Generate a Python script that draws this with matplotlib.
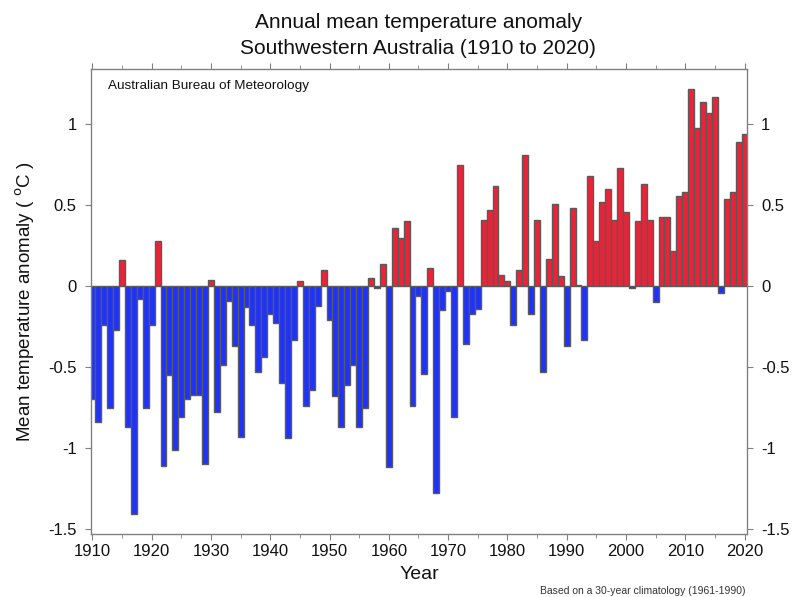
import matplotlib
matplotlib.use("Agg")
import matplotlib.pyplot as plt
import numpy as np
from matplotlib.ticker import MultipleLocator

plt.rcParams['font.family'] = ['Liberation Sans', 'DejaVu Sans']

years = list(range(1910, 2021))
anomaly = [
    -0.70, -0.84, -0.24, -0.75, -0.27, 0.16, -0.87, -1.41, -0.08, -0.75,   # 1910-1919
    -0.24, 0.28, -1.11, -0.55, -1.01, -0.81, -0.70, -0.67, -0.67, -1.10,   # 1920-1929
    0.04, -0.78, -0.49, -0.09, -0.37, -0.93, -0.13, -0.24, -0.53, -0.44,   # 1930-1939
    -0.17, -0.23, -0.60, -0.94, -0.33, 0.03, -0.74, -0.64, -0.12, 0.10,    # 1940-1949
    -0.21, -0.68, -0.87, -0.61, -0.49, -0.87, -0.75, 0.05, -0.01, 0.14,    # 1950-1959
    -1.12, 0.36, 0.30, 0.40, -0.74, -0.06, -0.54, 0.11, -1.28, -0.15,      # 1960-1969
    -0.03, -0.81, 0.75, -0.36, -0.17, -0.14, 0.41, 0.47, 0.62, 0.07,       # 1970-1979
    0.03, -0.24, 0.10, 0.81, -0.17, 0.41, -0.53, 0.17, 0.51, 0.06,         # 1980-1989
    -0.37, 0.48, 0.01, -0.33, 0.68, 0.28, 0.52, 0.60, 0.41, 0.73,          # 1990-1999
    0.46, -0.01, 0.40, 0.63, 0.41, -0.10, 0.43, 0.43, 0.22, 0.56,          # 2000-2009
    0.58, 1.22, 0.98, 1.14, 1.07, 1.17, -0.04, 0.54, 0.58, 0.89,           # 2010-2019
    0.94,                                                                  # 2020
]
x_ticks = list(range(1910, 2021, 10))
y_ticks = [-1.5, -1, -0.5, 0, 0.5, 1]
y_tick_labels = ['-1.5', '-1', '-0.5', '0', '0.5', '1']

RED = '#EE2236'
BLUE = '#1E32FF'
EDGE = '#5a5a5a'

fig = plt.figure(figsize=(8, 5.97), dpi=100)
ax = fig.add_axes([0.1134, 0.105, 0.8206, 0.779])

colors = [RED if v >= 0 else BLUE for v in anomaly]
ax.bar(years, anomaly, width=1.0, color=colors, edgecolor=EDGE, linewidth=1.0, zorder=2)

ax.set_xlim(1909.72, 2020.45)
ax.set_ylim(-1.533, 1.34)

ax.set_xticks(x_ticks)
ax.set_xticklabels([str(t) for t in x_ticks])
ax.xaxis.set_minor_locator(MultipleLocator(5))
ax.set_yticks(y_ticks)
ax.set_yticklabels(y_tick_labels)

for s in ax.spines.values():
    s.set_color('#808080')
    s.set_linewidth(1.0)

ax.tick_params(axis='both', which='both', direction='out', colors='#808080',
               labelcolor='#111111', labelsize=12)
ax.tick_params(axis='x', which='major', length=4, top=True, bottom=True, pad=3)
ax.tick_params(axis='x', which='minor', length=3, top=True, bottom=True)
ax.tick_params(axis='y', which='major', length=4, left=True, right=True,
               labelleft=True, labelright=True, pad=6)

ax.set_xlabel('Year', fontsize=14, color='#111111', labelpad=5)
ax.set_ylabel(r'Mean temperature anomaly ( $^{\mathrm{o}}$C )', fontsize=13.5, color='#111111', labelpad=8)

fig.text(0.523, 0.963, 'Annual mean temperature anomaly', ha='center', va='center',
         fontsize=15, color='#111111')
fig.text(0.523, 0.919, 'Southwestern Australia (1910 to 2020)', ha='center', va='center',
         fontsize=15, color='#111111')

ax.text(0.026, 0.965, 'Australian Bureau of Meteorology', transform=ax.transAxes,
        ha='left', va='center', fontsize=9.7, color='#111111')
fig.text(0.932, 0.002, 'Based on a 30-year climatology (1961-1990)', ha='right',
         va='bottom', fontsize=7.5, color='#333333')

fig.savefig('out.png', dpi=100)
